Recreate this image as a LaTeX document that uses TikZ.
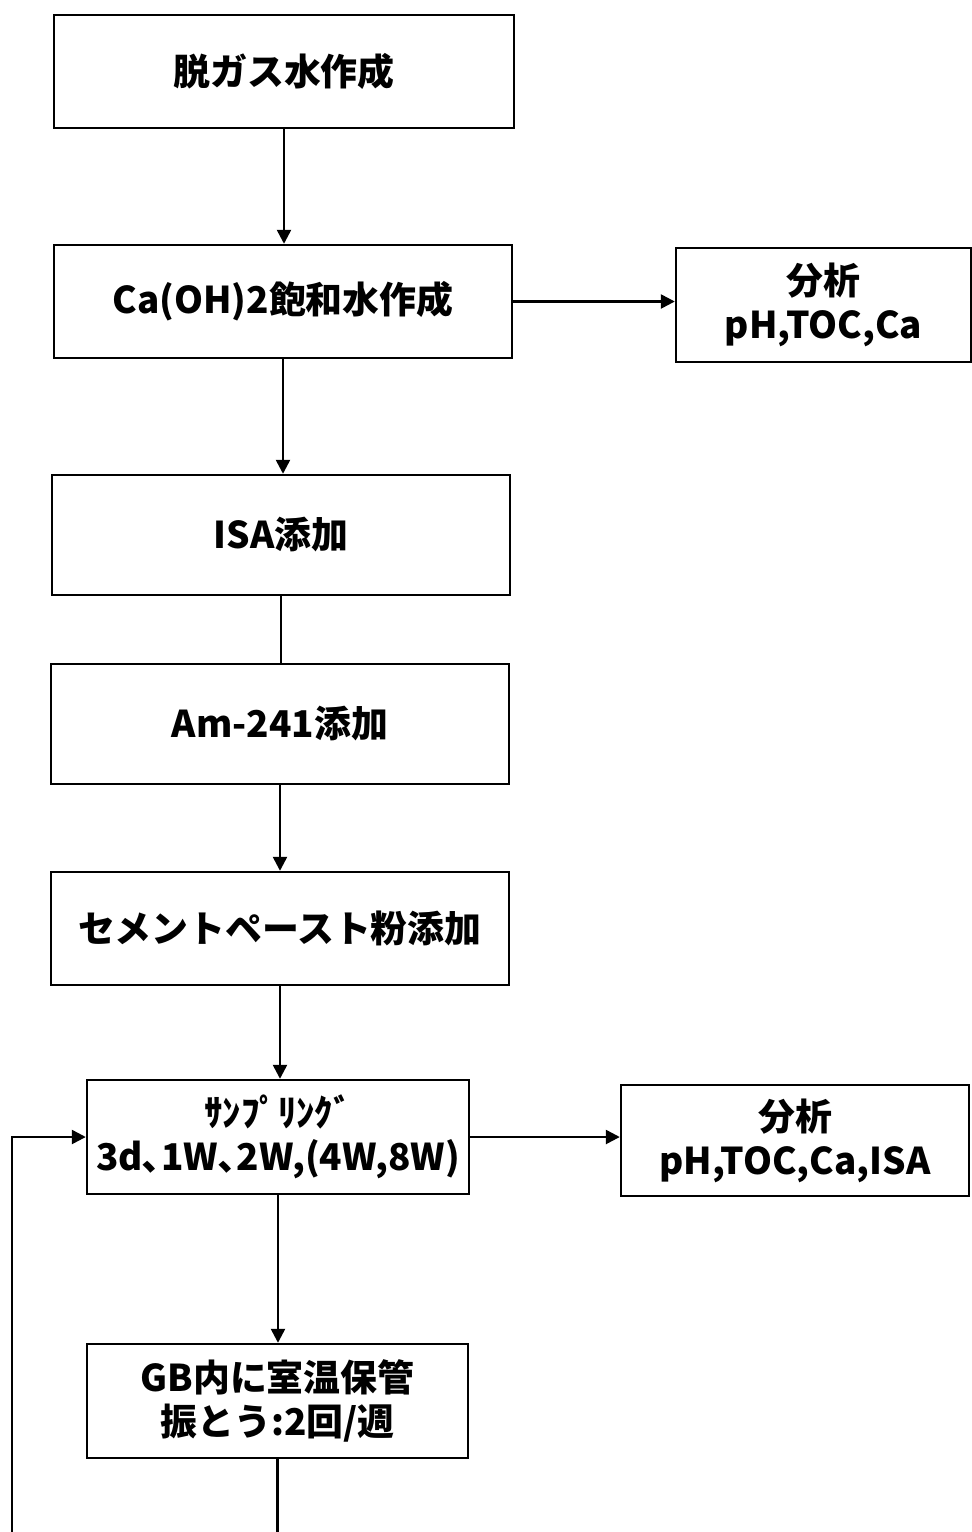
\documentclass[tikz,border=0pt]{standalone}
\usepackage{fontspec}
\setmainfont{Noto Sans CJK JP}
\usetikzlibrary{arrows.meta}
\tikzset{
  stepbox/.style={draw=black,line width=1.4pt,fill=white,inner sep=0pt,
    font=\fontsize{21}{25}\selectfont\bfseries,align=center},
  flowarrow/.style={-{Triangle[length=2.8mm,width=2.8mm]},draw=black,line width=1.4pt},
  flowplain/.style={draw=black,line width=1.4pt},
}

\begin{document}
\begin{tikzpicture}[x=0.02cm,y=-0.02cm]
% Page: 972 x 1532 px at 0.02 cm per px.
\useasboundingbox (0,0) rectangle (972,1532);

% Main column.
\node[stepbox,minimum width=9.2cm,minimum height=2.26cm] (degas) at (284,71.5) {脱ガス水作成};
\node[stepbox,minimum width=9.16cm,minimum height=2.26cm] (caoh) at (283,301.5) {Ca(OH)2飽和水作成};
\node[stepbox,minimum width=9.16cm,minimum height=2.4cm] (isa) at (281,535) {ISA添加};
\node[stepbox,minimum width=9.16cm,minimum height=2.4cm] (am) at (280,724) {Am-241添加};
\node[stepbox,minimum width=9.16cm,minimum height=2.26cm] (cement) at (280,928.5) {セメントペースト粉添加};
\node[stepbox,minimum width=7.64cm,minimum height=2.28cm] (sample) at (278,1137) {ｻﾝﾌﾟﾘﾝｸﾞ\\3d､1W､2W,(4W,8W)};
\node[stepbox,minimum width=7.62cm,minimum height=2.28cm] (store) at (277.5,1401) {GB内に室温保管\\振とう:2回/週};

% Analysis boxes on the right.
\node[stepbox,minimum width=5.9cm,minimum height=2.28cm] (anaone) at (823.5,305) {分析\\pH,TOC,Ca};
\node[stepbox,minimum width=6.96cm,minimum height=2.22cm] (anatwo) at (795,1140.5) {分析\\pH,TOC,Ca,ISA};

% Connectors.
\draw[flowarrow] (degas.south) -- (degas.south |- caoh.north);
\draw[flowarrow] (caoh.south) -- (caoh.south |- isa.north);
\draw[flowplain] (isa.south) -- (isa.south |- am.north);
\draw[flowarrow] (am.south) -- (am.south |- cement.north);
\draw[flowarrow] (cement.south) -- (cement.south |- sample.north);
\draw[flowarrow] (sample.south) -- (sample.south |- store.north);
\draw[flowarrow] (caoh.east) -- (caoh.east -| anaone.west);
\draw[flowarrow] (sample.east) -- (sample.east -| anatwo.west);

% Return loop, its lower run lies below the page edge.
\coordinate (loopcorner) at (12,1545);
\draw[flowarrow] (store.south) |- (loopcorner) |- (sample.west);
\end{tikzpicture}
\end{document}
